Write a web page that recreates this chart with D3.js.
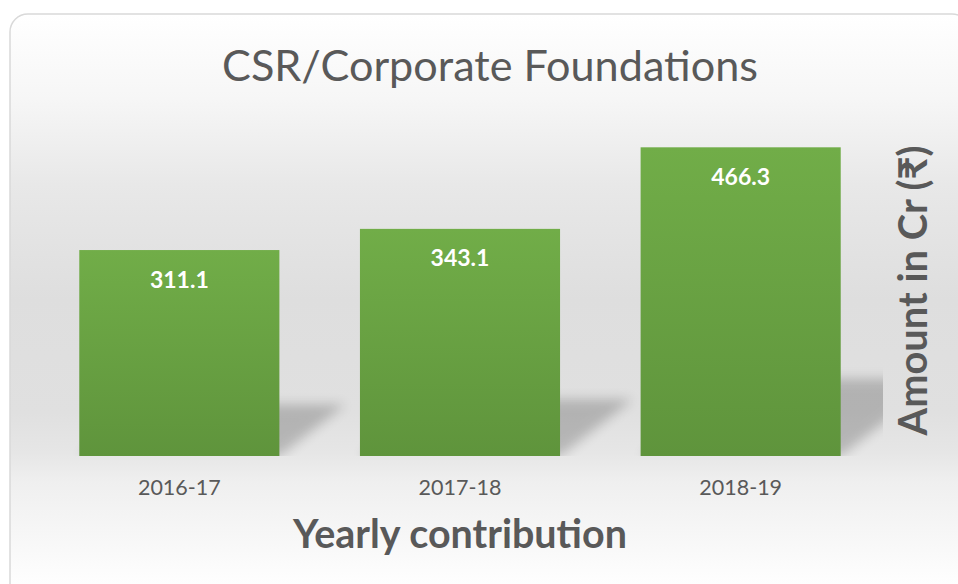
<!DOCTYPE html>
<html>
<head>
<meta charset="utf-8">
<script src="https://cdn.jsdelivr.net/npm/d3@7"></script>
<style>
  html, body { margin: 0; padding: 0; background: #ffffff; }
  svg { display: block; }
</style>
</head>
<body>
<svg id="chart" width="958" height="584"></svg>
<script>
// ---- data ----
const categories = ["2016-17", "2017-18", "2018-19"];
const values = [311.1, 343.1, 466.3];
const yDomain = [0, 500];
const chartTitle = "CSR/Corporate Foundations";
const xAxisTitle = "Yearly contribution";
const yAxisTitle = "Amount in Cr (₹)";

// ---- layout ----
const W = 958, H = 584;
const plot = { left: 39, right: 881, top: 125, bottom: 456 };
const FONT = "Lato, 'Noto Sans', 'DejaVu Sans', sans-serif";
const TEXT = "#595959";

const svg = d3.select("#chart");
const defs = svg.append("defs");

const bg = defs.append("linearGradient").attr("id", "bg")
  .attr("gradientUnits", "userSpaceOnUse").attr("x1", 0).attr("x2", 0).attr("y1", 14).attr("y2", 584);
[[0, "#ffffff"], [0.15, "#f6f6f6"], [0.3, "#e8e8e8"], [0.5, "#dedede"], [0.7, "#e0e0e0"], [0.77, "#e6e6e6"], [0.82, "#efefef"], [1, "#fefefe"]]
  .forEach(([o, c]) => bg.append("stop").attr("offset", o).attr("stop-color", c));

const barGrad = defs.append("linearGradient").attr("id", "barGrad")
  .attr("x1", 0).attr("x2", 0).attr("y1", 0).attr("y2", 1);
barGrad.append("stop").attr("offset", 0).attr("stop-color", "#71ad48");
barGrad.append("stop").attr("offset", 1).attr("stop-color", "#5f943c");

defs.append("filter").attr("id", "blur").attr("x", "-30%").attr("y", "-30%").attr("width", "160%").attr("height", "160%")
  .append("feGaussianBlur").attr("stdDeviation", 6);

defs.append("clipPath").attr("id", "plotClip").append("rect")
  .attr("x", plot.left).attr("y", plot.top - 40)
  .attr("width", plot.right - plot.left + 2).attr("height", plot.bottom - plot.top + 40);

// chart area
svg.append("rect").attr("x", 10).attr("y", 14).attr("width", 960).attr("height", 600)
  .attr("rx", 18).attr("ry", 18)
  .attr("fill", "url(#bg)").attr("stroke", "#d9d9d9").attr("stroke-width", 1.5);

// scales
const x = d3.scaleBand().domain(categories).range([plot.left, plot.right])
  .paddingInner(0.287).paddingOuter(0.1435);
const y = d3.scaleLinear().domain(yDomain).range([plot.bottom, plot.top]);

const data = categories.map((c, i) => ({ c, v: values[i] }));

// shadows
svg.append("g").attr("clip-path", "url(#plotClip)")
  .selectAll("path").data(data).join("path")
  .attr("d", d => {
    const x0 = x(d.c), x1 = x(d.c) + x.bandwidth();
    const hb = y(0) - y(d.v);
    const h = hb * 0.25, dx = hb * 0.32;
    const b = y(0);
    return `M${x0},${b}L${x1},${b}L${x1 + dx},${b - h}L${x0 + dx},${b - h}Z`;
  })
  .attr("fill", "#000").attr("opacity", 0.2).attr("filter", "url(#blur)");

// bars
svg.append("g").selectAll("rect").data(data).join("rect")
  .attr("x", d => x(d.c)).attr("y", d => y(d.v))
  .attr("width", x.bandwidth()).attr("height", d => y(0) - y(d.v))
  .attr("fill", "url(#barGrad)");

// value labels
svg.append("g").selectAll("text").data(data).join("text")
  .attr("x", d => x(d.c) + x.bandwidth() / 2)
  .attr("y", d => y(d.v) + 37.5)
  .attr("text-anchor", "middle")
  .attr("font-family", FONT).attr("font-weight", 700).attr("font-size", 23)
  .attr("fill", "#ffffff")
  .text(d => d.v.toFixed(1));

// x axis (labels only)
const xAxis = svg.append("g").attr("transform", `translate(0,${plot.bottom})`)
  .call(d3.axisBottom(x).tickSize(0).tickPadding(0));
xAxis.select(".domain").remove();
xAxis.selectAll("text")
  .attr("dy", null).attr("y", 39)
  .attr("font-family", FONT).attr("font-size", 21.5).attr("fill", TEXT);

function fit(sel, target) {
  const len = sel.node().getComputedTextLength();
  const fs = parseFloat(sel.attr("font-size"));
  sel.attr("font-size", fs * target / len);
}

// title
const t = svg.append("text").attr("x", 490).attr("y", 81).attr("text-anchor", "middle")
  .attr("font-family", FONT).attr("font-weight", 400).attr("font-size", 38).attr("fill", TEXT)
  .text(chartTitle);
fit(t, 536);

// x axis title
const xt = svg.append("text").attr("x", (plot.left + plot.right) / 2).attr("y", 548)
  .attr("text-anchor", "middle")
  .attr("font-family", FONT).attr("font-weight", 700).attr("font-size", 34).attr("fill", TEXT)
  .text(xAxisTitle);
fit(xt, 334);

// y axis title (right)
const yt = svg.append("text")
  .attr("transform", `translate(927,${(plot.top + plot.bottom) / 2}) rotate(-90)`)
  .attr("text-anchor", "middle")
  .attr("font-family", FONT).attr("font-weight", 700).attr("font-size", 32).attr("fill", TEXT)
  .text(yAxisTitle);
fit(yt, 290);
</script>
</body>
</html>
